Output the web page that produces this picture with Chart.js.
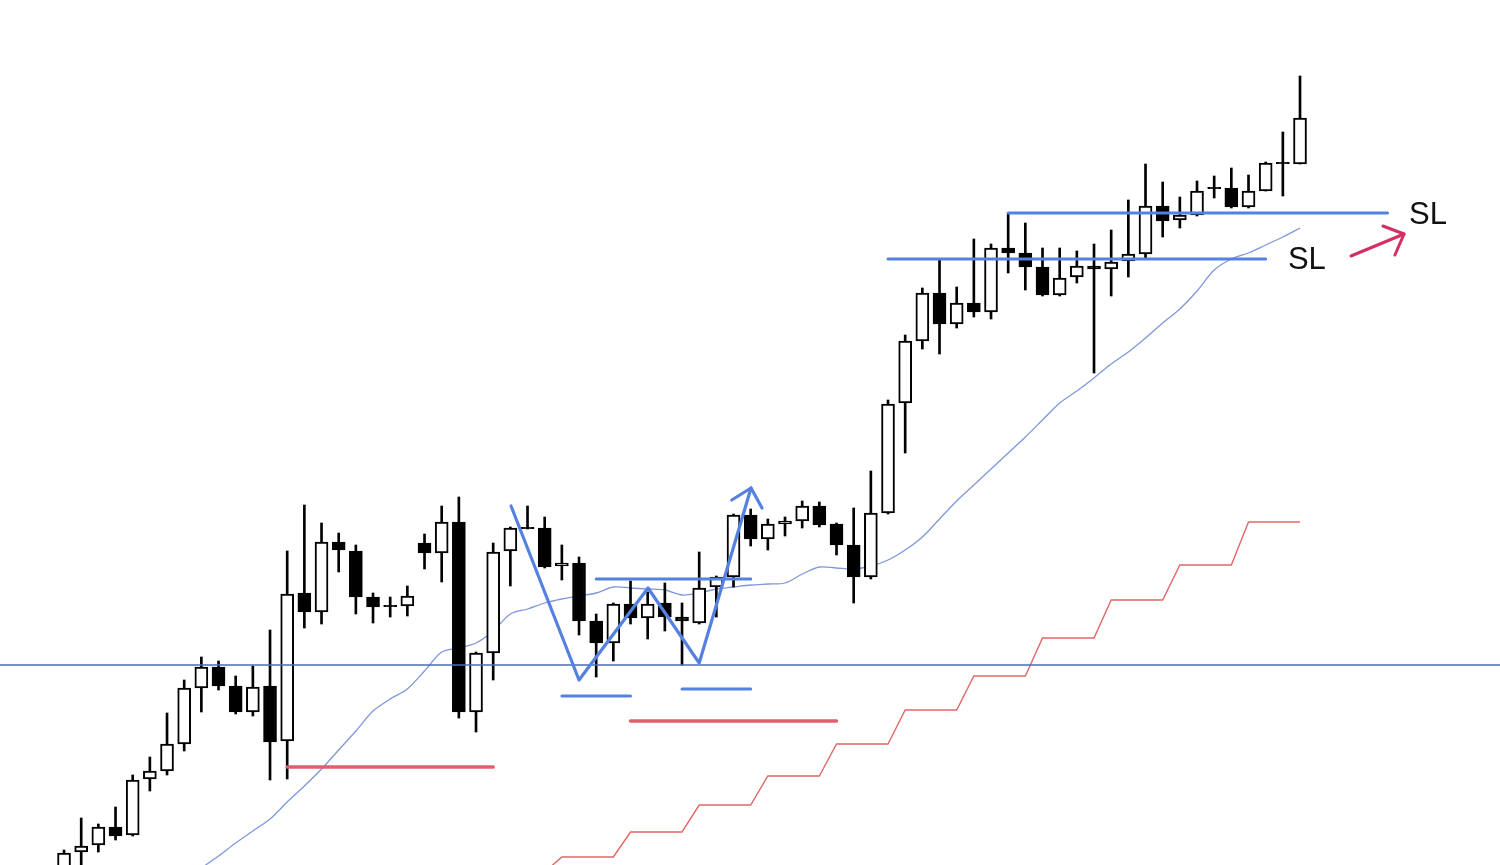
<!DOCTYPE html>
<html>
<head>
<meta charset="utf-8">
<script src="https://cdn.jsdelivr.net/npm/chart.js@4/dist/chart.umd.min.js"></script>
<style>
html,body{margin:0;padding:0;background:#ffffff;}
#wrap{width:1500px;height:865px;}
</style>
</head>
<body>
<div id="wrap"><canvas id="c" width="1500" height="865"></canvas></div>
<script>
// ---- Candle data (price levels, index = bar number) ----
const opens  = [-5,13,20,38,30,86,94,121,177,198,179,153,179,124,272,253,323,314,268,259,259,322,312,343,153,212,314,337,337,299,302,244,222,261,247,262,248,242,278,288,350,326,341,344,359,341,320,288,352,462,524,572,541,562,553,617,612,598,570,588,599,596,604,611,659,645,650,677,677,658,674,702,701];
const highs  = [15,47,41,58,90,108,152,185,208,204,189,199,235,314,360,342,332,320,272,268,279,331,359,368,213,322,338,359,348,320,308,251,262,284,273,282,262,313,289,351,356,346,348,364,363,342,357,394,465,530,577,606,578,626,621,652,642,617,617,614,621,635,665,701,683,668,684,689,697,690,703,733,789];
const lows   = [-7,-3,13,25,29,74,90,114,153,175,151,149,85,86,237,241,293,251,242,248,249,296,283,147,133,185,279,336,297,285,230,188,204,241,226,234,200,241,248,278,319,315,329,337,338,310,262,286,351,412,516,511,537,548,546,592,575,569,569,582,492,569,588,606,628,637,649,667,657,657,674,669,701];
const closes = [12,19,38,29,85,94,121,177,198,179,153,178,123,271,253,323,315,268,258,259,269,312,343,153,212,313,337,337,298,302,244,222,261,247,261,248,244,277,288,350,326,341,344,359,340,320,288,352,461,524,572,541,562,553,617,612,598,570,587,599,596,603,611,659,644,650,674,677,658,674,702,702,747];

// 20-period moving average (starts at bar 8)
const maStart = 8;
const maValues = [-3,9,22,34,46,63,79,96,115,134,154,166,176,194,213,217,222,234,251,256,262,266,269,272,278,277,276,275,270,272,276,278,280,281,282,291,298,297,296,299,305,315,328,346,364,380,396,412,428,445,462,474,487,501,513,527,542,556,574,595,606,612,620,628,637];

// Red trailing step line (starts at bar 28)
const stepStart = 28;
const stepValues = [-7,8,8,8,8,33,33,33,33,60,60,60,60,89,89,89,89,121,121,121,121,155,155,155,155,189,189,189,189,227,227,227,227,265,265,265,265,300,300,300,300,343,343,343,343];

// Annotation levels
const baseLevel = 200;
const redZones = [{from:13,to:25,y:98},{from:33,to:45,y:144}];
const blueLevels = [{from:29,to:33,y:169},{from:36,to:40,y:176},{from:31,to:40,y:286},{from:48,to:70,y:606},{from:55,to:77.1,y:652}];
const zigzag = [[26.04,359],[30,185],[34.02,277],[37,202],[40.02,377]];
const zigzagHead = [[38.9,365],[40.02,377],[40.66,357]];
const slArrow = [[74.97,609],[78.06,631]];
const slArrowHead = [[76.83,639],[78.06,631],[77.53,610]];
const slLabels = [{text:'SL',x:72.4,y:605},{text:'SL',x:79.46,y:650}];

// ---- Build datasets ----
const n = opens.length;
const bodies = opens.map((o,i)=>({x:i, y: o===closes[i] ? [o-0.6,o+0.6] : [o,closes[i]]}));
const bodyFill = opens.map((o,i)=> closes[i] > o ? '#ffffff' : '#000000');
const wicks = lows.map((l,i)=>({x:i, y:[l,highs[i]]}));
const maData = maValues.map((v,k)=>({x:maStart+k,y:v}));
const stepData = stepValues.map((v,k)=>({x:stepStart+k,y:v}));
const pts = arr => arr.map(p=>({x:p[0],y:p[1]}));

function seg(data,color,width,order){
  return {type:'line',data:data,borderColor:color,borderWidth:width,pointRadius:0,
    borderCapStyle:'round',borderJoinStyle:'round',fill:false,tension:0,order:order};
}

const datasets = [
  {type:'line',data:maData,borderColor:'#7f97dc',borderWidth:1.3,pointRadius:0,tension:0.3,fill:false,order:20},
  {type:'line',data:stepData,borderColor:'#e06868',borderWidth:1.4,pointRadius:0,tension:0,fill:false,order:20},
  {type:'bar',data:wicks,backgroundColor:'#000000',barThickness:2,grouped:false,order:10},
  {type:'bar',data:bodies,backgroundColor:bodyFill,borderColor:'#000000',borderWidth:2,borderSkipped:false,barThickness:13,grouped:false,order:9},
  seg([{x:-10,y:baseLevel},{x:100,y:baseLevel}],'#4a6db0',1.6,2)
];
redZones.forEach(z=>datasets.push(seg([{x:z.from,y:z.y},{x:z.to,y:z.y}],'#df5f6c',3.5,1)));
blueLevels.forEach(z=>datasets.push(seg([{x:z.from,y:z.y},{x:z.to,y:z.y}],'#5581e0',3,1)));
datasets.push(seg(pts(zigzag),'#5581e0',3.2,1));
datasets.push(seg(pts(zigzagHead),'#5581e0',3.2,1));
datasets.push(seg(pts(slArrow),'#d42e63',3,1));
datasets.push(seg(pts(slArrowHead),'#d42e63',3,1));

const labelPlugin = {
  id:'slLabels',
  afterDatasetsDraw(chart){
    const {ctx, scales:{x,y}} = chart;
    ctx.save();
    ctx.font = '31px "Liberation Sans", Arial, sans-serif';
    ctx.fillStyle = '#111111';
    ctx.textAlign = 'center';
    ctx.textBaseline = 'middle';
    slLabels.forEach(l=>ctx.fillText(l.text, x.getPixelForValue(l.x), y.getPixelForValue(l.y)));
    ctx.restore();
  }
};

new Chart(document.getElementById('c'), {
  type:'bar',
  data:{datasets:datasets},
  options:{
    responsive:false,
    animation:false,
    devicePixelRatio:1,
    layout:{padding:0},
    plugins:{legend:{display:false},tooltip:{enabled:false}},
    scales:{
      x:{type:'linear',display:false,min:-3.73,max:83.65,offset:false},
      y:{type:'linear',display:false,min:0,max:865}
    }
  },
  plugins:[labelPlugin]
});
</script>
</body>
</html>
